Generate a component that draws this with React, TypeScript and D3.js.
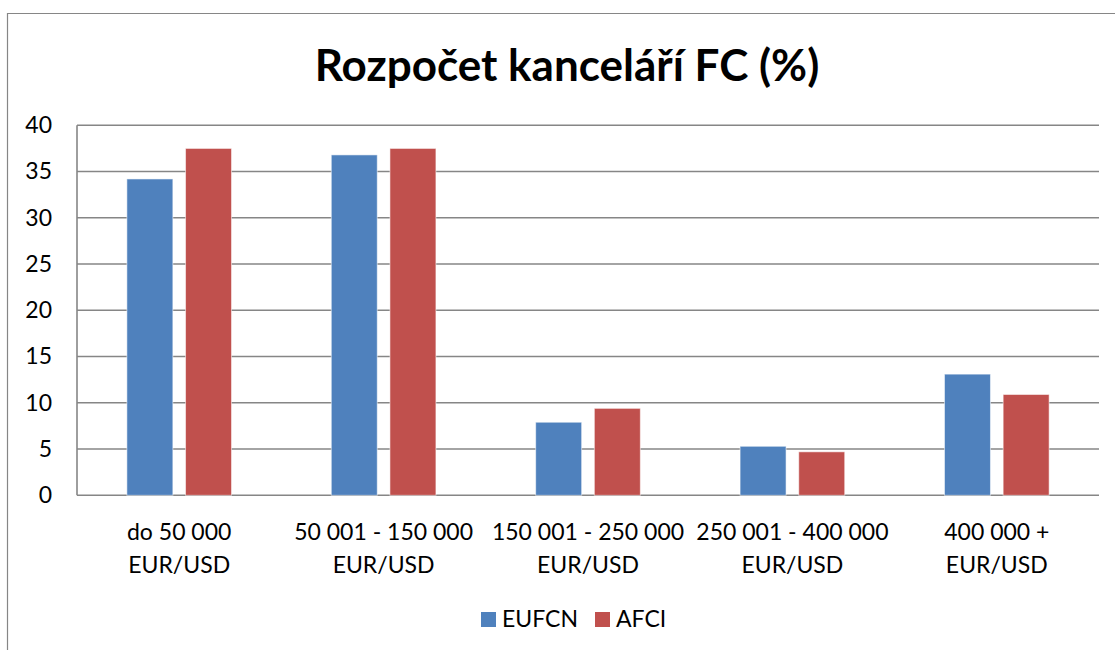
import React from 'react';
import * as d3 from 'd3';

// data
const categories = [
  ['do 50 000', 'EUR/USD'],
  ['50 001 - 150 000', 'EUR/USD'],
  ['150 001 - 250 000', 'EUR/USD'],
  ['250 001 - 400 000', 'EUR/USD'],
  ['400 000 +', 'EUR/USD'],
];
const eufcn = [34.2, 36.8, 7.9, 5.3, 13.1];
const afci = [37.5, 37.5, 9.4, 4.7, 10.9];
const seriesNames = ['EUFCN', 'AFCI'];
const seriesColors = ['#4F81BD', '#C0504D'];
const yTicks = [0, 5, 10, 15, 20, 25, 30, 35, 40];

const W = 1115;
const H = 650;
const font = 'Lato, "Open Sans", sans-serif';

export default function App() {
  const plot = { left: 77, right: 1099, top: 125.3, bottom: 495.3 };
  const y = d3.scaleLinear().domain([0, 40]).range([plot.bottom, plot.top]);
  const x = d3
    .scaleBand()
    .domain(categories.map((c, i) => String(i)))
    .range([plot.left, plot.right]);
  const band = x.bandwidth();
  const barW = band * 0.225;
  const gap = band * 0.062;
  const series = [eufcn, afci];
  const legendX = [481, 595];

  return (
    <svg width={W} height={H} style={{ position: 'absolute', left: 0, top: 0, background: '#fff' }}>
      {/* chart frame */}
      <path d={`M7.5,${H} L7.5,13.5 L${W},13.5`} fill="none" stroke="#868686" strokeWidth={1.2} />
      <text x={567} y={81} textAnchor="middle" fontFamily={font} fontWeight="bold" fontSize={44} fill="#000">
        Rozpočet kanceláří FC (%)
      </text>
      {/* grid */}
      {yTicks.map((t) => (
        <g key={t}>
          <line x1={plot.left} x2={plot.right} y1={y(t)} y2={y(t)} stroke="#868686" strokeWidth={1.6} />
          <text x={52} y={y(t) + 7.7} textAnchor="end" fontFamily={font} fontSize={23} fill="#000">
            {t}
          </text>
        </g>
      ))}
      <line x1={plot.left} x2={plot.left} y1={plot.top} y2={plot.bottom} stroke="#868686" strokeWidth={1.6} />
      {/* bars */}
      {series.map((vals, s) =>
        vals.map((v, i) => {
          const cx = x(String(i))! + band / 2;
          const bx = s === 0 ? cx - gap / 2 - barW : cx + gap / 2;
          return (
            <rect
              key={`${s}-${i}`}
              x={bx}
              y={y(v)}
              width={barW}
              height={y(0) - y(v)}
              fill={seriesColors[s]}
              stroke="rgba(255,255,255,0.55)"
              strokeWidth={1}
            />
          );
        })
      )}
      {/* x labels */}
      {categories.map((c, i) => {
        const cx = x(String(i))! + band / 2;
        return (
          <text key={i} x={cx} textAnchor="middle" fontFamily={font} fontSize={23} fill="#000">
            <tspan x={cx} y={540}>{c[0]}</tspan>
            <tspan x={cx} y={573}>{c[1]}</tspan>
          </text>
        );
      })}
      {/* legend */}
      {seriesNames.map((n, s) => (
        <g key={n}>
          <rect x={legendX[s]} y={612} width={15} height={15} fill={seriesColors[s]} />
          <text x={legendX[s] + 21} y={627} fontFamily={font} fontSize={23} fill="#000">
            {n}
          </text>
        </g>
      ))}
    </svg>
  );
}
